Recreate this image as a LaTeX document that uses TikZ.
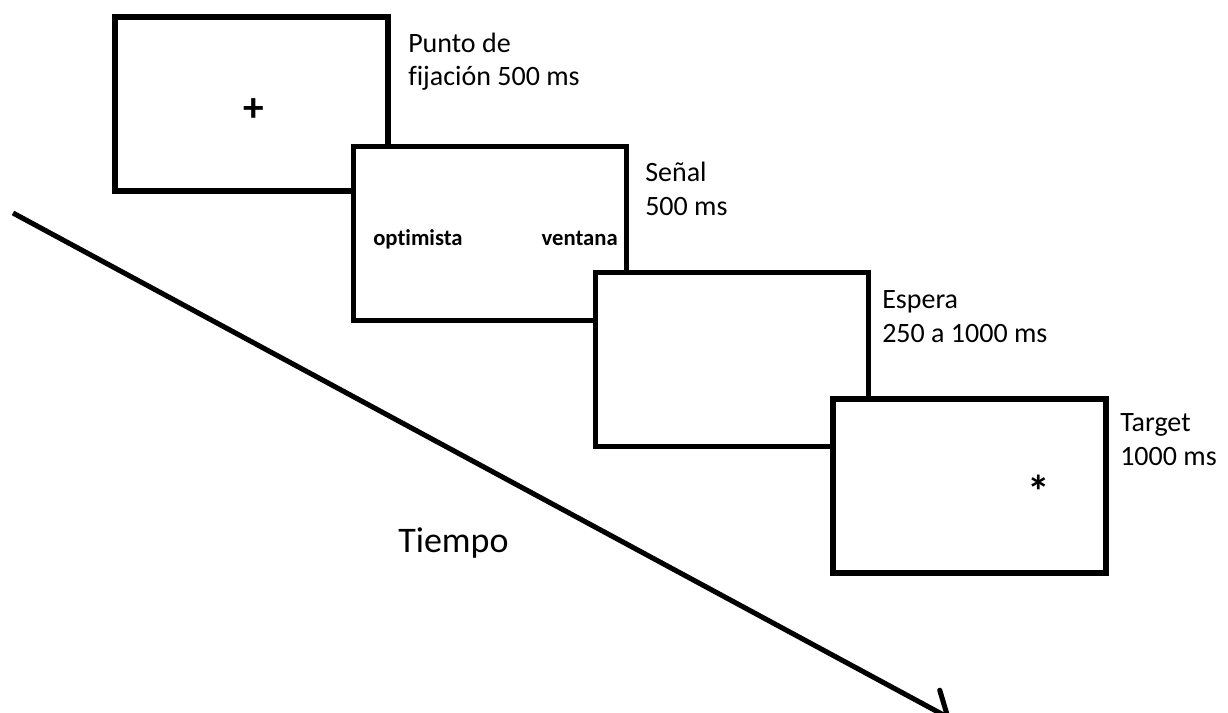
\documentclass[tikz,border=0pt]{standalone}
\usepackage{fontspec}
\setmainfont{Carlito}[Ligatures=NoCommon]
\usetikzlibrary{positioning,arrows.meta}

\tikzset{
    screen/.style={draw, fill=white, line width=3.8pt, minimum width=204.75pt, minimum height=130.5pt, inner sep=0pt},
    stimlabel/.style={anchor=base west, align=left, inner sep=0pt, font=\fontsize{21}{25}\selectfont},
    cue/.style={inner sep=0pt, font=\bfseries\fontsize{17}{20}\selectfont}
}

\begin{document}
\begin{tikzpicture}[x=0.75pt, y=-0.75pt]
    \useasboundingbox (0,0) rectangle (1228,713);

    % time axis
    \coordinate (t0) at (13,213);
    \coordinate (t1) at (951,719);
    \draw[line width=3.8pt, -{Straight Barb[length=15pt, width=30pt, line cap=round]}] (t0) -- (t1);
    \node[font=\fontsize{27}{32}\selectfont, anchor=base west, inner sep=0pt] (tiempo) at (398,552) {Tiempo};

    % screens
    \node[screen] (fix) at (251.5,104) {};
    \node[font=\bfseries\fontsize{31}{35}\selectfont] (cross) at (253.5,110) {+};
    \node[stimlabel] (fixlab) at (408,86) {Punto de\\fijación 500 ms};

    \node[screen] (cuebox) at (490,233.5) {};
    \node[cue, anchor=base west] (word1) at (373,245) {optimista};
    \node[cue, anchor=base east] (word2) at (618,245) {ventana};
    \node[stimlabel] (cuelab) at (645,215) {Señal\\500 ms};

    \node[screen] (wait) at (732,359.5) {};
    \node[stimlabel] (waitlab) at (882,342) {Espera\\250 a 1000 ms};

    \node[screen] (targ) at (969.5,486) {};
    \node[font=\bfseries\fontsize{34}{38}\selectfont] (star) at (1039,491) {*};
    \node[stimlabel] (targlab) at (1120,465) {Target\\1000 ms};
\end{tikzpicture}
\end{document}
